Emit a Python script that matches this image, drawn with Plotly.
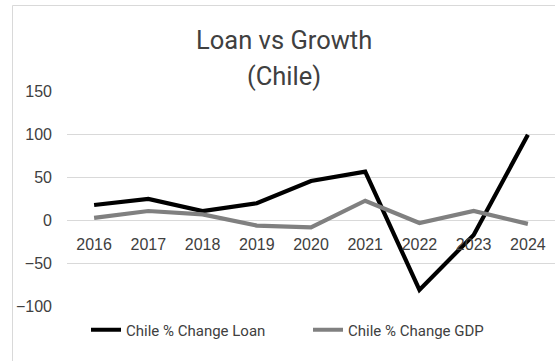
import plotly.graph_objects as go

# Chart data
years = [2016, 2017, 2018, 2019, 2020, 2021, 2022, 2023, 2024]
year_labels = [str(y) for y in years]
loan_change = [18, 25, 11, 20, 46, 57, -81, -17, 100]
gdp_change = [3, 11, 7, -6, -8, 23, -3, 11, -4]
y_ticks = [-100, -50, 0, 50, 100, 150]

title_lines = ["Loan vs Growth", "(Chile)"]
loan_name = "Chile % Change Loan"
gdp_name = "Chile % Change GDP"

W, H = 555, 361
M_L, M_R, M_T, M_B = 67, 0, 91, 54
Y_MIN, Y_MAX = -101, 151

plot_w = W - M_L - M_R
plot_h = H - M_T - M_B


def px_x(px):
    """Pixel column -> paper x."""
    return (px - M_L) / plot_w


def px_y(py):
    """Pixel row (from top) -> paper y."""
    return (H - M_B - py) / plot_h


tick_font = dict(family="Liberation Sans, Arial, sans-serif", size=16, color="#404040")
text_font = "Roboto, Arial, sans-serif"

fig = go.Figure()
fig.add_trace(go.Scatter(
    x=years, y=loan_change, name=loan_name, mode="lines",
    line=dict(color="#000000", width=4.2),
))
fig.add_trace(go.Scatter(
    x=years, y=gdp_change, name=gdp_name, mode="lines",
    line=dict(color="#808080", width=4.2),
))

zero_pos = (0 - Y_MIN) / (Y_MAX - Y_MIN)

fig.update_layout(
    width=W, height=H,
    margin=dict(l=M_L, r=M_R, t=M_T, b=M_B, pad=0, autoexpand=False),
    paper_bgcolor="white", plot_bgcolor="white",
    showlegend=True,
    legend=dict(
        orientation="h",
        xref="container", yref="container",
        x=86 / W, y=1 - 330 / H,
        xanchor="left", yanchor="middle",
        font=dict(family=text_font, size=15, color="#404040"),
        entrywidth=177, entrywidthmode="pixels",
        bgcolor="rgba(0,0,0,0)",
    ),
    xaxis=dict(
        range=[2015.5, 2024.5],
        tickmode="array", tickvals=years, ticktext=year_labels,
        showgrid=False, zeroline=False, showline=False, ticks="",
        anchor="free", position=zero_pos,
        tickfont=tick_font, ticklabelstandoff=13,
        fixedrange=True,
    ),
    yaxis=dict(
        range=[Y_MIN, Y_MAX],
        tickmode="array", tickvals=y_ticks,
        showgrid=True, gridcolor="#d9d9d9", gridwidth=1,
        zeroline=False, showline=False, ticks="",
        tickfont=tick_font, ticklabelstandoff=14,
        fixedrange=True,
    ),
    shapes=[
        # chart area border (runs off the right and bottom edges)
        dict(type="rect", xref="paper", yref="paper",
             x0=px_x(12.5), x1=px_x(W + 20), y0=px_y(H + 20), y1=px_y(5.5),
             line=dict(color="#d9d9d9", width=1), fillcolor="rgba(0,0,0,0)",
             layer="below"),
    ],
    annotations=[
        dict(text=title_lines[0], xref="paper", yref="paper",
             x=px_x(283.5), y=px_y(40), xanchor="center", yanchor="middle",
             showarrow=False, font=dict(family=text_font, size=25.5, color="#404040")),
        dict(text=title_lines[1], xref="paper", yref="paper",
             x=px_x(283.5), y=px_y(76), xanchor="center", yanchor="middle",
             showarrow=False, font=dict(family=text_font, size=25.5, color="#404040")),
    ],
)

fig.write_html("out.html")
